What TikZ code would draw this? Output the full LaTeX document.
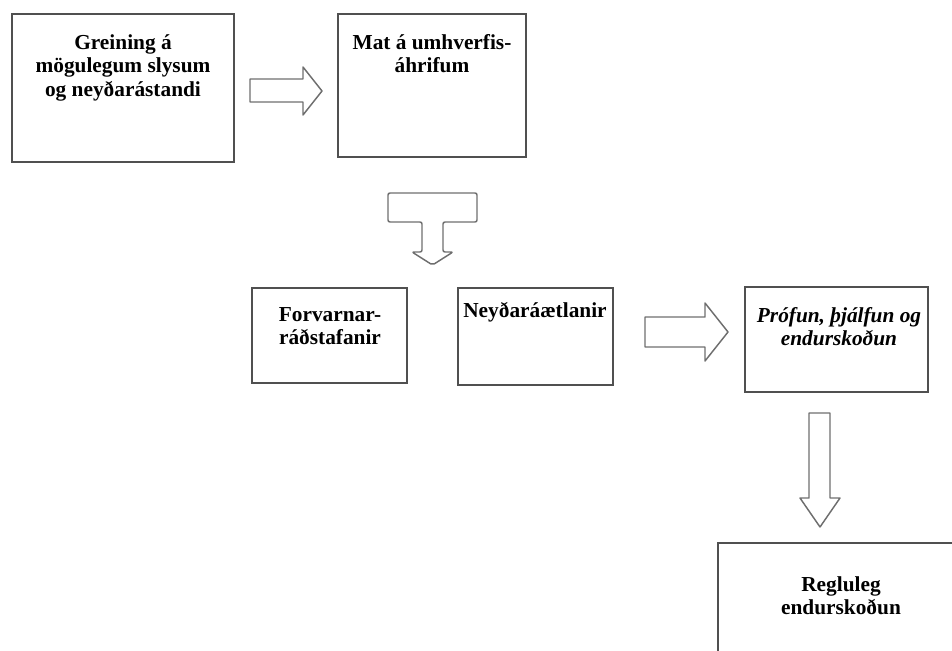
\documentclass[tikz,border=0pt]{standalone}
\usepackage{fontspec}
\setmainfont{Liberation Serif}
\usetikzlibrary{fit}
\tikzset{
  boxframe/.style={draw={rgb,255:red,80;green,80;blue,80}, line width=1.5pt, inner sep=0pt},
  boxtext/.style={anchor=north, align=center, inner sep=0pt, font=\fontsize{16}{17.6}\selectfont\bfseries},
  blockarrow/.style={draw={rgb,255:red,110;green,110;blue,110}, line width=1.1pt, line join=round}
}
\begin{document}
\begin{tikzpicture}[x=0.75pt,y=0.75pt,yscale=-1,xscale=1]
\useasboundingbox (0,0) rectangle (952,650);

%Shape: Rectangle [greining]
\node[boxframe, fit={(12,14) (234,162)}] (greining) {};
%Shape: Rectangle [mat]
\node[boxframe, fit={(338,14) (526,157)}] (mat) {};
%Shape: Rectangle [forvarnir]
\node[boxframe, fit={(252,288) (407,383)}] (forvarnir) {};
%Shape: Rectangle [neydar]
\node[boxframe, fit={(458,288) (613,385)}] (neydar) {};
%Shape: Rectangle [profun]
\node[boxframe, fit={(745,287) (928,392)}] (profun) {};
%Shape: Rectangle [regluleg]
\node[boxframe, fit={(718,543) (964,680)}] (regluleg) {};

%Text Nodes
\node[boxtext] (greiningtxt) at (123,34) {Greining á\\mögulegum slysum\\og neyðarástandi};
\node[boxtext] (mattxt) at (432,34) {Mat á umhverfis-\\áhrifum};
\node[boxtext] (forvarnirtxt) at (330,307) {Forvarnar-\\ráðstafanir};
\node[boxtext] (neydartxt) at (535,302) {Neyðaráætlanir};
\node[boxtext, font=\fontsize{16}{17.6}\selectfont\bfseries\itshape] (profuntxt) at (839,307) {Prófun, þjálfun og\\endurskoðun};
\node[boxtext] (reglulegtxt) at (841,576) {Regluleg\\endurskoðun};

%Shape: Right Arrow [greining -> mat]
\draw[blockarrow] (250,79) -- (303,79) -- (303,67) -- (322,91) -- (303,115) -- (303,102) -- (250,102) -- cycle;
%Shape: T Arrow [mat -> forvarnir, neydar]
\draw[blockarrow, rounded corners=1.5] (388,193) -- (477,193) -- (477,222) -- (443,222) -- (443,252) -- (453,252) -- (432.5,265) -- (412,252) -- (422,252) -- (422,222) -- (388,222) -- cycle;
%Shape: Right Arrow [neydar -> profun]
\draw[blockarrow] (645,317) -- (705,317) -- (705,303) -- (728,332) -- (705,361) -- (705,347) -- (645,347) -- cycle;
%Shape: Down Arrow [profun -> regluleg]
\draw[blockarrow] (809,413) -- (830,413) -- (830,498) -- (840,498) -- (820,527) -- (800,498) -- (809,498) -- cycle;
\end{tikzpicture}
\end{document}
